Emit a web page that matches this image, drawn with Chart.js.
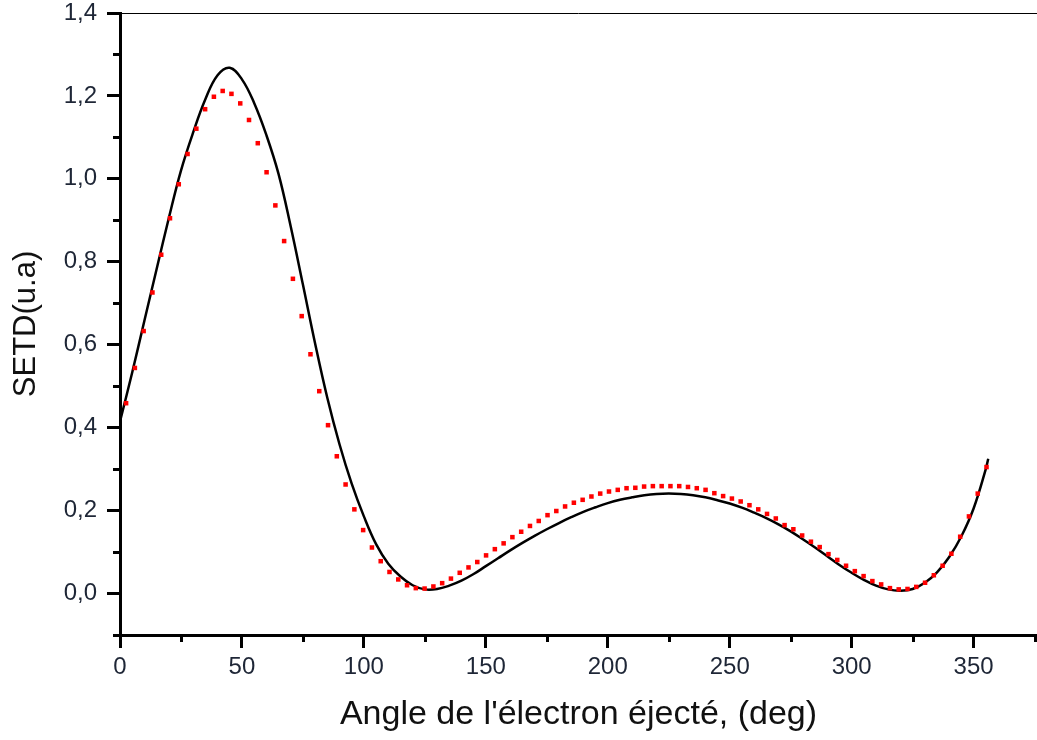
<!DOCTYPE html>
<html>
<head>
<meta charset="utf-8">
<script src="https://cdn.jsdelivr.net/npm/chart.js@4.4.0/dist/chart.umd.min.js"></script>
<style>
html, body { margin: 0; padding: 0; background: #ffffff; }
#wrap { width: 1037px; height: 740px; }
</style>
</head>
<body>
<div id="wrap"><canvas id="c" width="1037" height="740"></canvas></div>
<script>
// Red dotted series (angles in degrees, SETD values)
const dotAngles = [
  2.5, 6.1, 9.7, 13.3, 16.9, 20.5, 24.1, 27.7, 31.3, 34.9,
  38.5, 42.1, 45.7, 49.3, 52.9, 56.5, 60.1, 63.7, 67.3, 70.9,
  74.5, 78.1, 81.7, 85.3, 88.9, 92.5, 96.1, 99.7, 103.3, 106.9,
  110.5, 114.1, 117.7, 121.3, 124.9, 128.5, 132.1, 135.7, 139.3, 142.9,
  146.5, 150.1, 153.7, 157.3, 160.9, 164.5, 168.1, 171.7, 175.3, 178.9,
  182.5, 186.1, 189.7, 193.3, 196.9, 200.5, 204.1, 207.7, 211.3, 214.9,
  218.5, 222.1, 225.7, 229.3, 232.9, 236.5, 240.1, 243.7, 247.3, 250.9,
  254.5, 258.1, 261.7, 265.3, 268.9, 272.5, 276.1, 279.7, 283.3, 286.9,
  290.5, 294.1, 297.7, 301.3, 304.9, 308.5, 312.1, 315.7, 319.3, 322.9,
  326.5, 330.1, 333.7, 337.3, 340.9, 344.5, 348.1, 351.7, 355.3
];
const dotValues = [
  0.459, 0.544, 0.633, 0.726, 0.817, 0.905, 0.987, 1.060, 1.121, 1.168,
  1.198, 1.212, 1.205, 1.182, 1.142, 1.086, 1.016, 0.936, 0.850, 0.759,
  0.669, 0.577, 0.488, 0.406, 0.331, 0.263, 0.203, 0.153, 0.111, 0.078,
  0.052, 0.034, 0.020, 0.013, 0.012, 0.017, 0.025, 0.036, 0.050, 0.063,
  0.076, 0.092, 0.107, 0.121, 0.136, 0.149, 0.163, 0.175, 0.189, 0.199,
  0.210, 0.219, 0.226, 0.234, 0.241, 0.246, 0.250, 0.254, 0.255, 0.258,
  0.259, 0.259, 0.259, 0.259, 0.257, 0.254, 0.250, 0.242, 0.235, 0.229,
  0.222, 0.213, 0.203, 0.192, 0.181, 0.165, 0.155, 0.140, 0.125, 0.112,
  0.095, 0.081, 0.067, 0.054, 0.042, 0.030, 0.022, 0.013, 0.010, 0.011,
  0.016, 0.026, 0.044, 0.067, 0.096, 0.137, 0.186, 0.241, 0.305
];

// Black solid curve
const lineAngles = [
  0, 5, 10, 15, 20, 25, 30, 35, 40, 45, 50, 55, 60, 65, 70, 75, 80, 85, 90,
  95, 100, 105, 110, 115, 120, 125, 130, 135, 140, 145, 150, 155, 160, 165, 170, 175, 180, 185,
  190, 195, 200, 205, 210, 215, 220, 225, 230, 235, 240, 245, 250, 255, 260, 265, 270, 275, 280, 285,
  290, 295, 300, 305, 310, 315, 320, 325, 330, 335, 340, 345, 350, 355, 356
];
const lineValues = [
  0.415, 0.533, 0.658, 0.782, 0.905, 1.020, 1.112, 1.192, 1.250, 1.268, 1.240, 1.183, 1.106, 1.012, 0.885, 0.745, 0.603, 0.472, 0.360,
  0.265, 0.186, 0.119, 0.072, 0.041, 0.020, 0.010, 0.011, 0.019, 0.031, 0.047, 0.066, 0.085, 0.104, 0.122, 0.139, 0.155, 0.170, 0.184,
  0.197, 0.208, 0.218, 0.226, 0.232, 0.237, 0.240, 0.241, 0.240, 0.237, 0.232, 0.225, 0.217, 0.207, 0.195, 0.182, 0.167, 0.150, 0.131, 0.111,
  0.090, 0.069, 0.050, 0.033, 0.019, 0.010, 0.007, 0.011, 0.026, 0.051, 0.088, 0.138, 0.205, 0.300, 0.325
];

// Axis ticks
const xMajorLabels = [0, 50, 100, 150, 200, 250, 300, 350];
const yMajorLabels = ['0,0', '0,2', '0,4', '0,6', '0,8', '1,0', '1,2', '1,4'];
const xRange = [0, 376];
const yRange = [-0.1, 1.4];

const isMajorX = v => xMajorLabels.includes(Math.round(v));
const yIndex = v => Math.round(v * 10);
const isMajorY = v => yIndex(v) >= 0 && yIndex(v) % 2 === 0;

const tickFont = { family: "'Liberation Sans', Arial, sans-serif", size: 24 };
const tickColor = '#1e2636';

const axisDecor = {
  id: 'axisDecor',
  afterDraw(chart) {
    const ctx = chart.ctx;
    const ca = chart.chartArea;
    const xs = chart.scales.x, ys = chart.scales.y;
    ctx.save();
    ctx.strokeStyle = '#000';
    ctx.lineWidth = 3;
    ctx.beginPath();
    xs.ticks.forEach(t => {
      if (!isMajorX(t.value)) {
        const px = Math.round(xs.getPixelForValue(t.value)) + 0.5;
        ctx.moveTo(px, ca.bottom);
        ctx.lineTo(px, ca.bottom + 7);
      }
    });
    ys.ticks.forEach(t => {
      if (!isMajorY(t.value)) {
        const py = Math.round(ys.getPixelForValue(t.value)) + 0.5;
        ctx.moveTo(ca.left - 7, py);
        ctx.lineTo(ca.left, py);
      }
    });
    ctx.stroke();
    ctx.lineWidth = 1;
    ctx.beginPath();
    ctx.moveTo(ca.left, ca.top + 0.5);
    ctx.lineTo(ca.right, ca.top + 0.5);
    ctx.stroke();
    ctx.restore();
  }
};

new Chart(document.getElementById('c'), {
  type: 'line',
  data: {
    datasets: [
      {
        label: 'points',
        data: dotAngles.map((a, i) => ({ x: a, y: dotValues[i] })),
        showLine: false,
        pointStyle: 'rect',
        pointRadius: 3.2,
        pointBorderWidth: 0,
        backgroundColor: '#ff0000',
        borderColor: '#ff0000',
        order: 0
      },
      {
        label: 'curve',
        data: lineAngles.map((a, i) => ({ x: a, y: lineValues[i] })),
        borderColor: '#000000',
        borderWidth: 2.5,
        pointRadius: 0,
        fill: false,
        tension: 0.4,
        order: 1
      }
    ]
  },
  options: {
    responsive: false,
    devicePixelRatio: 1,
    animation: false,
    layout: { autoPadding: false, padding: { left: 0, right: 0, top: 0, bottom: 0 } },
    plugins: { legend: { display: false }, tooltip: { enabled: false } },
    scales: {
      x: {
        type: 'linear',
        min: xRange[0],
        max: xRange[1],
        afterFit(s) { s.height = 105; s.paddingRight = 0; s.paddingLeft = 0; },
        border: { display: true, color: '#000', width: 3 },
        grid: {
          drawOnChartArea: false,
          drawTicks: true,
          tickLength: 13,
          tickWidth: 3,
          tickColor: c => (c.tick && isMajorX(c.tick.value)) ? '#000' : 'rgba(0,0,0,0)'
        },
        ticks: {
          stepSize: 25,
          includeBounds: false,
          autoSkip: false,
          maxRotation: 0,
          padding: 5,
          color: tickColor,
          font: tickFont,
          callback: v => isMajorX(v) ? String(Math.round(v)) : ''
        },
        title: {
          display: true,
          text: "Angle de l'électron éjecté, (deg)",
          color: '#111',
          font: { family: "'Liberation Sans', Arial, sans-serif", size: 34 },
          padding: { top: 0, bottom: 5 }
        }
      },
      y: {
        type: 'linear',
        min: yRange[0],
        max: yRange[1],
        afterFit(s) { s.width = 120; s.paddingTop = 13; s.paddingBottom = 0; },
        border: { display: true, color: '#000', width: 3 },
        grid: {
          drawOnChartArea: false,
          drawTicks: true,
          tickLength: 13,
          tickWidth: 3,
          tickColor: c => (c.tick && isMajorY(c.tick.value)) ? '#000' : 'rgba(0,0,0,0)'
        },
        ticks: {
          stepSize: 0.1,
          autoSkip: false,
          padding: 10,
          color: tickColor,
          font: tickFont,
          callback: v => isMajorY(v) ? yMajorLabels[yIndex(v) / 2] : ''
        },
        title: {
          display: true,
          text: 'SETD(u.a)',
          color: '#111',
          font: { family: "'Liberation Sans', Arial, sans-serif", size: 31 },
          padding: { top: 8, bottom: 0 }
        }
      }
    }
  },
  plugins: [axisDecor]
});
</script>
</body>
</html>
